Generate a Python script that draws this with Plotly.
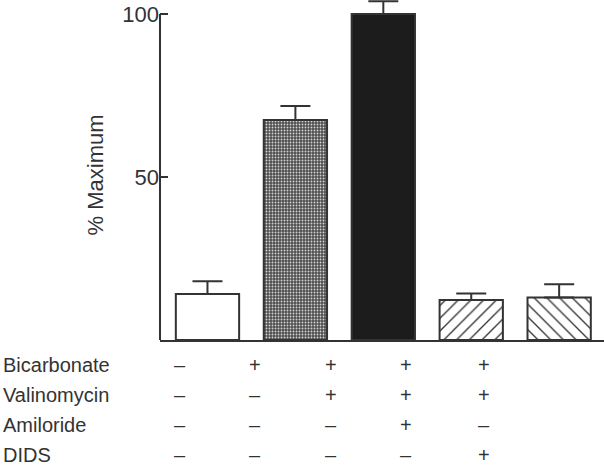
import plotly.graph_objects as go

# ---- data ----
conditions = ["Control", "Bicarbonate", "Bic+Val", "Bic+Val+Amil", "Bic+Val+DIDS"]
percent_max = [14.1, 67.5, 100.0, 12.3, 13.0]
sem = [3.9, 4.3, 3.9, 2.0, 4.1]

row_labels = ["Bicarbonate", "Valinomycin", "Amiloride", "DIDS"]
bicarbonate = ["–", "+", "+", "+", "+"]
valinomycin = ["–", "–", "+", "+", "+"]
amiloride = ["–", "–", "–", "+", "–"]
dids = ["–", "–", "–", "–", "+"]
table_rows = [bicarbonate, valinomycin, amiloride, dids]

# ---- styling ----
INK = "#333333"
FONT = "Liberation Sans, Arial, sans-serif"
W, H = 604, 469
ML, MB = 160, 129
PW, PH = W - ML, H - MB

bar_styles = [
    dict(color="white", pattern=dict(shape="")),
    dict(color="#4e4e4e", pattern=dict(shape=".", fgcolor="#d4d4d4", bgcolor="#4e4e4e",
                                       size=3, solidity=0.3, fillmode="replace")),
    dict(color="#1c1c1c", pattern=dict(shape="")),
    dict(color="white", pattern=dict(shape="/", fgcolor=INK, bgcolor="white",
                                     size=9, solidity=0.15, fillmode="replace")),
    dict(color="white", pattern=dict(shape="\\", fgcolor=INK, bgcolor="white",
                                     size=9, solidity=0.15, fillmode="replace")),
]

fig = go.Figure()
for i, cond in enumerate(conditions):
    st = bar_styles[i]
    fig.add_trace(go.Bar(
        x=[cond], y=[percent_max[i]], width=0.72, name=cond,
        marker=dict(color=st["color"], line=dict(color=INK, width=2),
                    pattern=st["pattern"]),
        error_y=dict(type="data", array=[sem[i]], arrayminus=[0],
                     symmetric=False, color=INK, thickness=2, width=15),
        showlegend=False,
    ))

# y-axis line only from 0 to 100
fig.add_shape(type="line", xref="paper", x0=0, x1=0, yref="y", y0=0, y1=100,
              line=dict(color=INK, width=2))

# y title
fig.add_annotation(text="% Maximum", xref="paper", yref="y",
                   x=(95 - ML) / PW, y=50.5, textangle=-90, showarrow=False,
                   xanchor="center", yanchor="middle",
                   font=dict(family=FONT, size=22, color=INK))

# condition table
row_px = [365, 395, 425, 455]
col_px = [180, 255, 331, 406, 484]
for r, (label, vals) in enumerate(zip(row_labels, table_rows)):
    yp = (PH - row_px[r]) / PH
    fig.add_annotation(text=label, xref="paper", yref="paper",
                       x=(1 - ML) / PW, y=yp, xanchor="left", yanchor="middle",
                       showarrow=False, font=dict(family=FONT, size=20, color=INK))
    for c, v in enumerate(vals):
        fig.add_annotation(text=v, xref="paper", yref="paper",
                           x=(col_px[c] - ML) / PW, y=yp, xanchor="center",
                           yanchor="middle", showarrow=False,
                           font=dict(family=FONT, size=20, color=INK))

fig.update_layout(
    width=W, height=H,
    margin=dict(l=ML, r=0, t=0, b=MB, pad=0),
    paper_bgcolor="white", plot_bgcolor="white",
    font=dict(family=FONT, color=INK),
    barmode="overlay",
    xaxis=dict(range=[-0.54, 4.51], showticklabels=False, ticks="",
               showgrid=False, zeroline=False, showline=True,
               linecolor=INK, linewidth=2),
    yaxis=dict(range=[0, 104.3], tickvals=[50, 100], ticktext=["50", "100"],
               ticks="inside", ticklen=8, tickwidth=2, tickcolor=INK,
               showgrid=False, zeroline=False, showline=False,
               tickfont=dict(family=FONT, size=22, color=INK)),
)

fig.write_html("out.html", config={"displayModeBar": False},
               post_script="document.body.style.margin='0';document.body.style.overflow='hidden';")
